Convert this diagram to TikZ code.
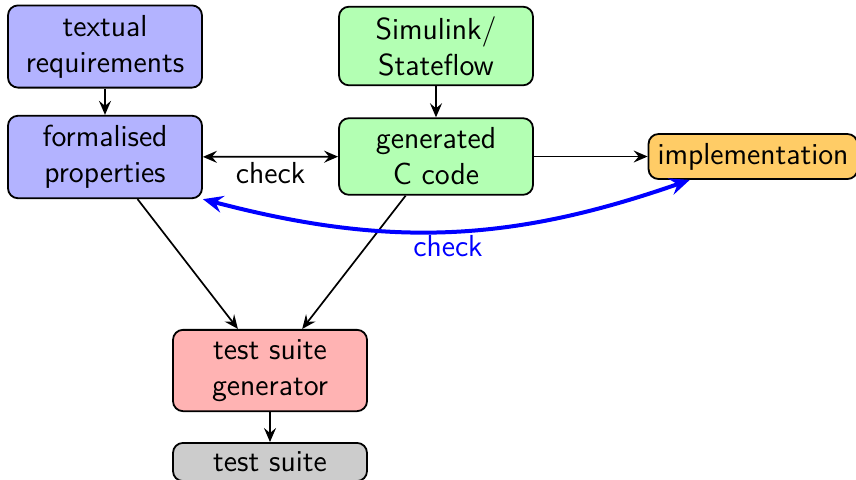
\documentclass[tikz,border=0pt]{standalone}
\usepackage{tikz}
\usetikzlibrary{arrows.meta,calc}
\definecolor{boxblue}{RGB}{179,179,255}
\definecolor{boxgreen}{RGB}{179,255,179}
\definecolor{boxorange}{RGB}{255,204,102}
\definecolor{boxred}{RGB}{255,179,179}
\definecolor{boxgray}{RGB}{204,204,204}
\tikzset{
  box/.style={draw=black, line width=0.9pt, rounded corners=5pt, align=center,
    minimum width=97pt, inner xsep=4.5pt, inner ysep=4.8pt,
    font=\sffamily\fontsize{15.2pt}{18pt}\selectfont},
  conn/.style={draw=black, line width=0.85pt, -{Stealth[length=7pt,width=6pt,inset=2.5pt]}},
  conn2/.style={draw=black, line width=0.85pt, {Stealth[length=7pt,width=6pt,inset=2.5pt]}-{Stealth[length=7pt,width=6pt,inset=2.5pt]}},
  bluecheck/.style={draw=blue, line width=2pt, {Stealth[length=10pt,width=8.5pt,inset=3.5pt]}-{Stealth[length=10pt,width=8.5pt,inset=3.5pt]}},
  lbl/.style={font=\sffamily\fontsize{15.2pt}{18pt}\selectfont}
}
\begin{document}
\begin{tikzpicture}[x=0.5pt,y=-0.5pt]
\useasboundingbox (0,0) rectangle (856,479);
\node[box, fill=boxblue] (tr) at (105,46.5) {textual\\requirements};
\node[box, fill=boxblue] (fp) at (105,157) {formalised\\properties};
\node[box, fill=boxgreen] (sim) at (436,46) {Simulink/\\Stateflow};
\node[box, fill=boxgreen] (gc) at (436,156.5) {generated\\C code};
\node[box, fill=boxorange, minimum width=0pt, inner ysep=4.5pt] (impl) at (753,156.5) {implementation};
\node[box, fill=boxred] (tsg) at (270,370.5) {test suite\\generator};
\node[box, fill=boxgray, inner ysep=4.5pt] (ts) at (270,462) {test suite};
\draw[conn] (tr) -- (fp);
\draw[conn] (sim) -- (gc);
\draw[conn2] (fp) -- node[lbl, below, yshift=1pt] (chk) {check} (gc);
\draw[conn] (gc) -- (impl);
\draw[conn] (fp) -- (tsg);
\draw[conn] (gc) -- (tsg);
\draw[conn] (tsg) -- (ts);
\coordinate (implend) at ($(impl.south west)!0.2!(impl.south east)$);
\draw[bluecheck] (fp.south east) to[bend right=17] node[lbl, text=blue, below, yshift=2.5pt] (chk2) {check} (implend);
\end{tikzpicture}
\end{document}
